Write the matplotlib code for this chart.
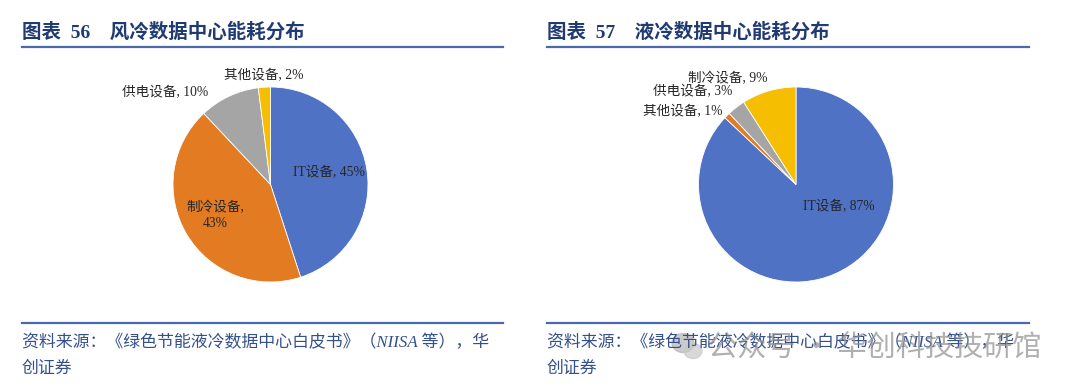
import matplotlib
matplotlib.use("Agg")
import matplotlib.pyplot as plt
from matplotlib.lines import Line2D
from matplotlib.patches import Ellipse

# ---------------- data ----------------
left_title = "图表  56    风冷数据中心能耗分布"
right_title = "图表  57    液冷数据中心能耗分布"

left_labels = ["IT设备", "制冷设备", "供电设备", "其他设备"]
left_values = [45, 43, 10, 2]

right_labels = ["IT设备", "其他设备", "供电设备", "制冷设备"]
right_values = [87, 1, 3, 9]

source_text = "资料来源：《绿色节能液冷数据中心白皮书》（NIISA 等），华\n创证券"
watermark = "公众号 · 华创科技技研馆"

# ---------------- style ----------------
W, H = 1080, 386
BLUE = "#5072C4"
ORANGE = "#E27B22"
GRAY = "#A5A5A5"
YELLOW = "#F5BE00"
left_colors = [BLUE, ORANGE, GRAY, YELLOW]
right_colors = [BLUE, ORANGE, GRAY, YELLOW]
TITLE_C = "#203A72"
LINE_C = "#4A6AAE"
SRC_C = "#34508C"
FONT = ["Liberation Serif", "Noto Sans CJK SC", "DejaVu Sans"]
plt.rcParams["font.family"] = FONT

fig = plt.figure(figsize=(W / 100, H / 100), dpi=100)


def fx(x):
    return x / W


def fy(y):
    return 1 - y / H


def hline(x0, x1, y):
    fig.add_artist(Line2D([fx(x0), fx(x1)], [fy(y), fy(y)], transform=fig.transFigure,
                          color=LINE_C, lw=1.6))


def pie_panel(cx, cy, r, labels, values, colors, label_pos, label_fmt):
    ax = fig.add_axes([fx(cx - r), fy(cy + r), 2 * r / W, 2 * r / H])
    ax.pie(values, colors=colors, startangle=90, counterclock=False, radius=1,
           wedgeprops=dict(edgecolor="white", linewidth=0.6))
    ax.set_xlim(-1, 1)
    ax.set_ylim(-1, 1)
    ax.set_aspect("equal")
    ax.axis("off")
    for lab, val, (dx, dy), fmt in zip(labels, values, label_pos, label_fmt):
        ax.text(dx, dy, fmt.format(lab=lab, val=val), ha="center", va="center",
                fontsize=9.8, color="#262626", linespacing=1.3, clip_on=False)
    return ax


# label placements (in pie-radius units)
left_pos = [(0.60, 0.12), (-0.57, -0.32), (-1.08, 0.94), (-0.07, 1.12)]
left_fmt = ["{lab}, {val}%", "{lab},\n{val}%", "{lab}, {val}%", "{lab}, {val}%"]
right_pos = [(0.44, -0.23), (-1.16, 0.75), (-1.06, 0.95), (-0.70, 1.09)]
right_fmt = ["{lab}, {val}%"] * 4

pie_panel(270.5, 184.5, 97.5, left_labels, left_values, left_colors, left_pos, left_fmt)
pie_panel(796, 184.5, 97.5, right_labels, right_values, right_colors, right_pos, right_fmt)

# titles
for x0, t in [(22, left_title), (547, right_title)]:
    fig.text(fx(x0), fy(32), t, ha="left", va="center", fontsize=14,
             fontweight="bold", color=TITLE_C)

# rules
hline(22, 503, 46.5)
hline(547, 1029, 46.5)
hline(22, 503, 323)
hline(547, 1029, 323)

# source notes
for x0 in (22, 547):
    fig.text(fx(x0), fy(356), source_text, ha="left", va="center", fontsize=12.2,
             color=SRC_C, style="italic", linespacing=1.85)

# watermark
fig.add_artist(Ellipse((fx(683), fy(343)), 22 / W, 19 / H, transform=fig.transFigure,
                       color="#b5b5b5", alpha=0.7))
fig.add_artist(Ellipse((fx(693), fy(351)), 18 / W, 15 / H, transform=fig.transFigure,
                       color="#c8c8c8", alpha=0.7))
fig.text(fx(708), fy(349), watermark, ha="left", va="center", fontsize=21,
         color="#8f8f8f", alpha=0.7, family=["Noto Sans CJK SC", "DejaVu Sans"])

fig.savefig("out.png", dpi=100, facecolor="white")
